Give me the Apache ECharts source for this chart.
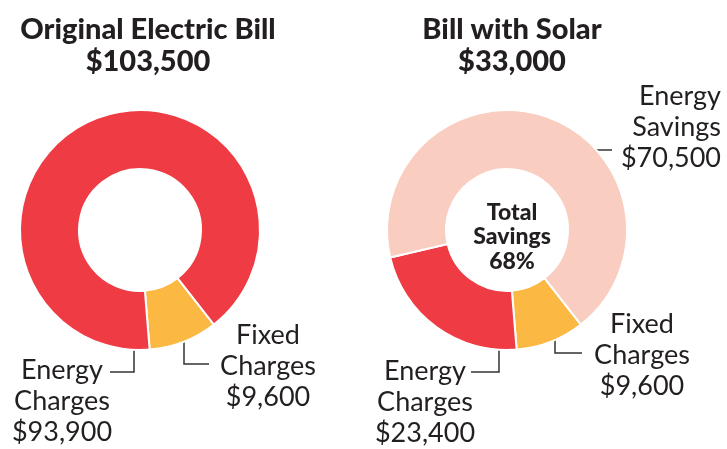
<!DOCTYPE html>
<html>
<head>
<meta charset="utf-8">
<script src="https://cdn.jsdelivr.net/npm/echarts@6/dist/echarts.min.js"></script>
<style>
html,body{margin:0;padding:0;background:#fff;}
#chart{width:727px;height:449px;}
</style>
</head>
<body>
<div id="chart"></div>
<script>
// ---- data ----
var originalNames = ['Fixed Charges', 'Energy Charges'];
var originalValues = [9600, 93900];
var solarNames = ['Fixed Charges', 'Energy Charges', 'Energy Savings'];
var solarValues = [9600, 23400, 70500];
var titles = ['Original Electric Bill', 'Bill with Solar'];
var centerLabel = ['Total', 'Savings'];

var colorsOriginal = ['#FBB843', '#EF3B43'];
var colorsSolar = ['#FBB843', '#EF3B43', '#F9CDBF'];

function fmt(v){ return '$' + v.toLocaleString('en-US'); }
function sum(a){ return a.reduce(function(s,v){return s+v;},0); }

var origTotal = sum(originalValues);
var solarBill = solarValues[0] + solarValues[1];
var savingsPct = Math.round(solarValues[2] / origTotal * 100);

var FONT = 'Lato, "Open Sans", sans-serif';
var TXT = '#231F20';

// label layout (positions only)
var layouts = {
  '0-0': {x:268, y:366, align:'center', pts:[[184,327],[184,364],[209,364]]},
  '0-1': {x:62,  y:401, align:'center', pts:[[134,338],[134,372],[110,372]]},
  '1-0': {x:642, y:355, align:'center', pts:[[555,330],[555,353],[582,353]]},
  '1-1': {x:425, y:402, align:'center', pts:[[499,333],[499,372],[471,372]]},
  '1-2': {x:721, y:127, align:'right',  pts:[[572,150],[612,150]]}
};

function makeData(names, values, colors){
  return names.map(function(n,i){
    return {name:n, value:values[i], itemStyle:{color:colors[i]}};
  });
}

function pieSeries(idx, names, values, colors, cx){
  return {
    type:'pie',
    center:[cx, 230],
    radius:[61, 120],
    startAngle:-52,
    clockwise:true,
    silent:true,
    avoidLabelOverlap:false,
    itemStyle:{borderColor:'#fff', borderWidth:2},
    label:{
      show:true,
      position:'outside',
      formatter:function(p){ return p.name.replace(' ', '\n') + '\n' + fmt(p.value); },
      fontFamily:FONT,
      fontSize:27,
      lineHeight:31,
      color:TXT
    },
    labelLine:{show:true, lineStyle:{color:'#333', width:1.5}},
    labelLayout:function(p){
      var l = layouts[idx + '-' + p.dataIndex];
      return {x:l.x, y:l.y, align:l.align, verticalAlign:'middle', labelLinePoints:l.pts};
    },
    data:makeData(names, values, colors)
  };
}

var chart = echarts.init(document.getElementById('chart'), null, {renderer:'canvas'});
chart.setOption({
  backgroundColor:'#fff',
  animation:false,
  title:[
    {text:titles[0] + '\n' + fmt(origTotal), left:143, top:9, textAlign:'center',
     textStyle:{fontFamily:FONT, fontWeight:900, fontSize:29, lineHeight:32, color:TXT}},
    {text:titles[1] + '\n' + fmt(solarBill), left:507, top:9, textAlign:'center',
     textStyle:{fontFamily:FONT, fontWeight:900, fontSize:29, lineHeight:32, color:TXT}},
    {text:centerLabel.join('\n') + '\n' + savingsPct + '%', left:507, top:195, textAlign:'center',
     textStyle:{fontFamily:FONT, fontWeight:900, fontSize:23, lineHeight:24.5, color:TXT}}
  ],
  series:[
    pieSeries(0, originalNames, originalValues, colorsOriginal, 140),
    pieSeries(1, solarNames, solarValues, colorsSolar, 507)
  ]
});
</script>
</body>
</html>
